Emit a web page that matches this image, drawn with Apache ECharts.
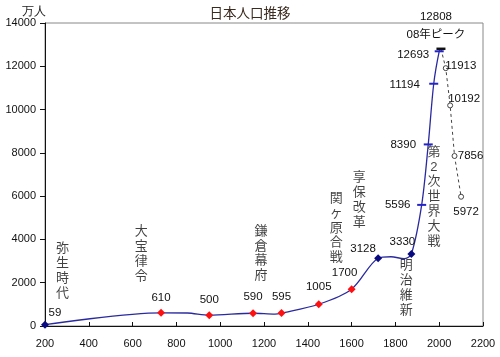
<!DOCTYPE html>
<html><head><meta charset="utf-8">
<script src="https://cdn.jsdelivr.net/npm/echarts@6/dist/echarts.min.js"></script>
<style>html,body{margin:0;padding:0;background:#fff}#c{width:500px;height:357px}</style>
</head><body><div id="c"></div>
<script>
// ---- data ----
const years = [200, 730, 850, 950, 1150, 1250, 1280, 1450, 1600, 1721, 1780, 1840, 1873, 1920, 1950, 1975, 2000, 2008];
const population = [59, 610, 600, 500, 590, 550, 595, 1005, 1700, 3128, 3200, 3110, 3330, 5596, 8390, 11194, 12693, 12808];
const labeledYears = [200, 730, 950, 1150, 1280, 1450, 1600, 1721, 1873, 1920, 1950, 1975, 2000, 2008];
const projectionYears = [2008, 2030, 2050, 2070, 2100];
const projectionValues = [12808, 11913, 10192, 7856, 5972];
const peakNote = '08年ピーク';
const eventNames = ['弥生時代', '大宝律令', '鎌倉幕府', '関ヶ原合戦', '享保改革', '明治維新', '第2次世界大戦'];
const xTicks = [200, 400, 600, 800, 1000, 1200, 1400, 1600, 1800, 2000, 2200];
const yTicks = [0, 2000, 4000, 6000, 8000, 10000, 12000, 14000];
const titleText = '日本人口推移';
const unitText = '万人';

// ---- layout / style ----
const FONT = '"Liberation Sans", Arial, "Noto Sans CJK JP", sans-serif';
const labelOffset = {200:[10,-12],730:[0,-15],950:[0,-15],1150:[0,-16],1280:[0,-16],1450:[0,-17],1600:[-7,-16],
  1721:[-15,-9],1873:[-9,-12],1920:[-24,0],1950:[-25,0],1975:[-29,1],2000:[-26,4],2008:[-5,-23]};
const projOffset = {2030:[15,-2],2050:[14,-7],2070:[16,0],2100:[5,15]};
const eventAnchor = [[280,2540],[640,3330],[1186,3350],[1530,4530],[1635,5820],[1850,1760],[1976,5980]];

function markerFor(y) {
  if (!labeledYears.includes(y)) return {symbol: 'none'};
  if (y === 2008) return {symbol: 'rect', symbolSize: [9, 2.5], itemStyle: {color: '#111'}};
  if (y >= 1920) return {symbol: 'rect', symbolSize: [9, 2], itemStyle: {color: '#2424c8'}};
  if (y === 200 || y === 1721 || y === 1873) return {symbol: 'diamond', symbolSize: 8, itemStyle: {color: '#0a0a80'}};
  return {symbol: 'diamond', symbolSize: 8, itemStyle: {color: '#ff1010'}};
}

const mainData = years.map((y, i) => {
  const m = markerFor(y);
  const item = Object.assign({value: [y, population[i]]}, m);
  if (labeledYears.includes(y)) {
    item.label = {
      show: true, position: 'inside', offset: labelOffset[y],
      formatter: y === 2008 ? String(population[i]) + '\n' + peakNote : String(population[i]),
      fontSize: 11.5, color: '#111', fontFamily: FONT, lineHeight: 18
    };
  }
  return item;
});

const projData = projectionYears.map((y, i) => {
  if (i === 0) return {value: [y, projectionValues[i]], symbol: 'none'};
  return {
    value: [y, projectionValues[i]], symbol: 'circle', symbolSize: 5,
    itemStyle: {color: '#fff', borderColor: '#444', borderWidth: 1},
    label: {show: true, position: 'inside', offset: projOffset[y], formatter: String(projectionValues[i]),
      fontSize: 11.5, color: '#111', fontFamily: FONT}
  };
});

const eventData = eventNames.map((n, i) => ({
  value: eventAnchor[i],
  label: {show: true, position: 'inside', formatter: n.split('').join('\n'),
    fontSize: 13, lineHeight: 14.8, color: '#111', fontFamily: FONT, align: 'center', verticalAlign: 'middle'}
}));

const chart = echarts.init(document.getElementById('c'), null, {renderer: 'canvas'});
chart.setOption({
  animation: false,
  backgroundColor: '#fff',
  title: {text: titleText, left: 'center', top: 3, textStyle: {fontSize: 13.5, fontWeight: 'normal', color: '#3b2a1e', fontFamily: FONT}},
  graphic: [{type: 'text', left: 22, top: 6, style: {text: unitText, fontSize: 12, fill: '#222', font: '12px ' + FONT}}],
  grid: {left: 45, right: 17, top: 23, bottom: 31, show: true, borderColor: '#888', borderWidth: 1},
  xAxis: {
    type: 'value', min: xTicks[0], max: xTicks[xTicks.length - 1], interval: xTicks[1] - xTicks[0],
    axisLine: {lineStyle: {color: '#111'}}, axisTick: {inside: true, length: 4, lineStyle: {color: '#111'}},
    splitLine: {show: false},
    axisLabel: {margin: 12, fontSize: 11, color: '#111', fontFamily: FONT, formatter: v => String(v)}
  },
  yAxis: {
    type: 'value', min: yTicks[0], max: yTicks[yTicks.length - 1], interval: yTicks[1] - yTicks[0],
    axisLine: {show: true, lineStyle: {color: '#111'}}, axisTick: {show: true, length: 5, lineStyle: {color: '#111'}},
    splitLine: {show: false},
    axisLabel: {margin: 9, fontSize: 11, color: '#111', fontFamily: FONT, formatter: v => String(v)}
  },
  series: [
    {type: 'line', data: projData, z: 2, lineStyle: {color: '#444', width: 1, type: [3, 3]}},
    {type: 'line', data: mainData, z: 3, smooth: 0.3, lineStyle: {color: '#2a2aa0', width: 1.3}},
    {type: 'scatter', data: eventData, symbolSize: 1, itemStyle: {color: 'rgba(0,0,0,0)'}, z: 4}
  ]
});
</script></body></html>
